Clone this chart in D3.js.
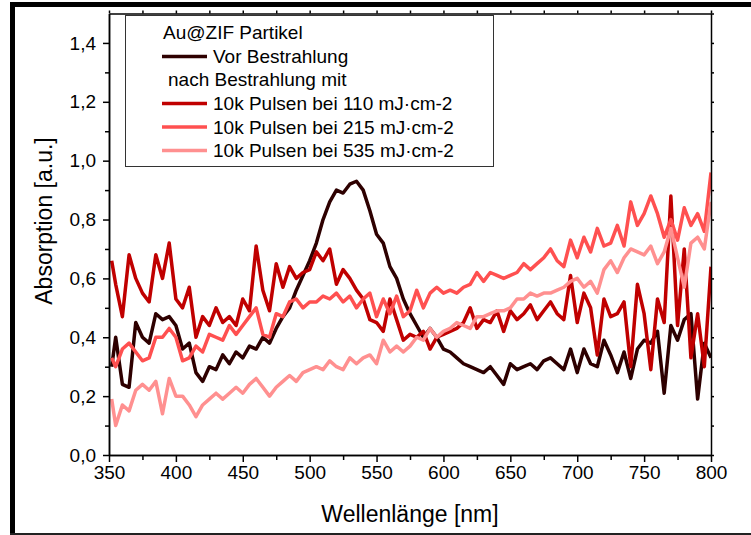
<!DOCTYPE html>
<html>
<head>
<meta charset="utf-8">
<script src="https://cdn.jsdelivr.net/npm/d3@7"></script>
<style>
  body { margin: 0; background: #fff; }
  svg { font-family: "Liberation Sans", Arial, sans-serif; }
</style>
</head>
<body>
<svg id="chart" width="751" height="535"></svg>
<script>
// wavelengths (nm)
const wavelengths = [352, 355, 360, 365, 370, 375, 380, 385, 390, 395, 400, 405, 410, 415, 420, 425, 430, 435, 440, 445,
  450, 455, 460, 465, 470, 475, 480, 485, 490, 495, 500, 505, 510, 515, 520, 525, 530, 535, 540, 545,
  550, 555, 560, 565, 570, 575, 580, 585, 590, 595, 600, 605, 610, 615, 620, 625, 630, 635, 640, 645,
  650, 655, 660, 665, 670, 675, 680, 685, 690, 695, 700, 705, 710, 715, 720, 725, 730, 735, 740, 745,
  750, 755, 760, 765, 770, 775, 780, 785, 790, 795, 800];

const vorBestrahlung = [0.30, 0.40, 0.24, 0.23, 0.45, 0.40, 0.38, 0.48, 0.46, 0.47, 0.44, 0.36, 0.38, 0.28, 0.25, 0.30, 0.29, 0.34, 0.31, 0.35,
  0.33, 0.37, 0.36, 0.40, 0.38, 0.43, 0.47, 0.50, 0.56, 0.61, 0.66, 0.72, 0.80, 0.86, 0.90, 0.89, 0.92, 0.93, 0.90, 0.83,
  0.75, 0.72, 0.64, 0.60, 0.53, 0.48, 0.44, 0.40, 0.43, 0.40, 0.36, 0.35, 0.33, 0.31, 0.30, 0.29, 0.28, 0.30, 0.27, 0.24,
  0.31, 0.29, 0.30, 0.31, 0.29, 0.32, 0.33, 0.31, 0.29, 0.36, 0.28, 0.36, 0.31, 0.30, 0.39, 0.34, 0.28, 0.35, 0.26, 0.36,
  0.39, 0.38, 0.42, 0.21, 0.44, 0.39, 0.46, 0.48, 0.19, 0.38, 0.33];

const puls110 = [0.66, 0.58, 0.47, 0.68, 0.60, 0.55, 0.52, 0.68, 0.60, 0.72, 0.53, 0.50, 0.57, 0.40, 0.47, 0.44, 0.50, 0.45, 0.47, 0.44,
  0.53, 0.49, 0.71, 0.56, 0.49, 0.65, 0.57, 0.64, 0.60, 0.62, 0.63, 0.69, 0.66, 0.70, 0.58, 0.63, 0.60, 0.56, 0.53, 0.46,
  0.45, 0.42, 0.53, 0.46, 0.39, 0.41, 0.40, 0.42, 0.36, 0.40, 0.41, 0.42, 0.43, 0.45, 0.50, 0.43, 0.46, 0.45, 0.49, 0.42,
  0.49, 0.46, 0.48, 0.51, 0.46, 0.49, 0.52, 0.48, 0.46, 0.61, 0.45, 0.55, 0.50, 0.34, 0.53, 0.47, 0.48, 0.52, 0.30, 0.58,
  0.48, 0.29, 0.53, 0.45, 0.88, 0.44, 0.70, 0.33, 0.48, 0.30, 0.64];

const puls215 = [0.33, 0.30, 0.36, 0.38, 0.35, 0.32, 0.33, 0.40, 0.40, 0.43, 0.40, 0.32, 0.33, 0.37, 0.35, 0.41, 0.40, 0.39, 0.44, 0.41,
  0.44, 0.47, 0.50, 0.41, 0.40, 0.48, 0.47, 0.52, 0.53, 0.50, 0.52, 0.52, 0.54, 0.53, 0.55, 0.52, 0.54, 0.50, 0.53, 0.55,
  0.47, 0.53, 0.48, 0.54, 0.47, 0.49, 0.56, 0.50, 0.55, 0.57, 0.55, 0.56, 0.55, 0.57, 0.58, 0.62, 0.59, 0.62, 0.61, 0.60,
  0.61, 0.62, 0.65, 0.63, 0.65, 0.67, 0.70, 0.66, 0.64, 0.73, 0.67, 0.74, 0.69, 0.77, 0.71, 0.72, 0.78, 0.71, 0.86, 0.78,
  0.82, 0.88, 0.82, 0.74, 0.80, 0.73, 0.84, 0.78, 0.82, 0.76, 0.96];

const puls535 = [0.19, 0.10, 0.17, 0.15, 0.22, 0.24, 0.22, 0.25, 0.14, 0.26, 0.20, 0.20, 0.17, 0.13, 0.17, 0.19, 0.21, 0.19, 0.21, 0.23,
  0.21, 0.24, 0.26, 0.23, 0.20, 0.23, 0.25, 0.27, 0.25, 0.28, 0.29, 0.30, 0.29, 0.32, 0.30, 0.29, 0.33, 0.31, 0.33, 0.34,
  0.31, 0.39, 0.35, 0.37, 0.35, 0.37, 0.40, 0.39, 0.43, 0.40, 0.42, 0.43, 0.45, 0.44, 0.43, 0.47, 0.47, 0.48, 0.49, 0.49,
  0.50, 0.53, 0.53, 0.55, 0.54, 0.55, 0.55, 0.56, 0.57, 0.59, 0.60, 0.57, 0.59, 0.55, 0.63, 0.66, 0.62, 0.67, 0.70, 0.69,
  0.68, 0.71, 0.65, 0.69, 0.77, 0.67, 0.57, 0.72, 0.74, 0.70, 0.86];

const seriesNames = ["Vor Bestrahlung", "10k Pulsen bei 110 mJ·cm-2", "10k Pulsen bei 215 mJ·cm-2", "10k Pulsen bei 535 mJ·cm-2"];
const seriesValues = [vorBestrahlung, puls110, puls215, puls535];
const colors = ["#2e0000", "#c00000", "#ff5050", "#ff9090"];

const xTicks = [350, 400, 450, 500, 550, 600, 650, 700, 750, 800];
const yTicks = [0, 0.2, 0.4, 0.6, 0.8, 1.0, 1.2, 1.4];

const svg = d3.select("#chart");
const plotLeft = 109, plotRight = 711, plotTop = 13.5, plotBottom = 455;

const x = d3.scaleLinear().domain([350, 800]).range([plotLeft, plotRight]);
const y = d3.scaleLinear().domain([0, 1.5]).range([plotBottom, plotTop]);

const fmt = (d) => d3.format(".1f")(d).replace(".", ",");

// outer frame
svg.append("rect").attr("x", 10).attr("y", 2).attr("width", 741).attr("height", 5).attr("fill", "#000");
svg.append("rect").attr("x", 10).attr("y", 2).attr("width", 5).attr("height", 533).attr("fill", "#000");
svg.append("rect").attr("x", 10).attr("y", 533).attr("width", 741).attr("height", 2).attr("fill", "#222");

// lines
const line = d3.line()
  .x((d, i) => x(wavelengths[i]))
  .y((d) => y(d));

svg.append("defs").append("clipPath").attr("id", "clip")
  .append("rect").attr("x", plotLeft).attr("y", plotTop)
  .attr("width", plotRight - plotLeft).attr("height", plotBottom - plotTop);

const plot = svg.append("g").attr("clip-path", "url(#clip)");
seriesValues.forEach((vals, k) => {
  plot.append("path")
    .datum(vals)
    .attr("fill", "none")
    .attr("stroke", colors[k])
    .attr("stroke-width", 3.5)
    .attr("stroke-linejoin", "round")
    .attr("d", line);
});

// axes
function styleAxis(g) {
  g.select(".domain").attr("stroke-width", 1.5);
  g.selectAll(".tick line").attr("stroke-width", 1.5);
  g.selectAll("text").attr("font-size", 19).attr("fill", "#000").attr("font-family", "Liberation Sans, Arial, sans-serif");
}

svg.append("g")
  .attr("transform", `translate(0,${plotBottom})`)
  .call(d3.axisBottom(x).tickValues(d3.range(375, 800, 50)).tickSize(5).tickFormat("").tickSizeOuter(0))
  .call(styleAxis);
svg.append("g")
  .attr("transform", `translate(0,${plotBottom})`)
  .call(d3.axisBottom(x).tickValues(xTicks).tickSize(7).tickPadding(4).tickFormat(d3.format("d")).tickSizeOuter(0))
  .call(styleAxis);

svg.append("g")
  .attr("transform", `translate(${plotLeft},0)`)
  .call(d3.axisLeft(y).tickValues(d3.range(0.1, 1.5, 0.2)).tickSize(4).tickFormat("").tickSizeOuter(0))
  .call(styleAxis);
svg.append("g")
  .attr("transform", `translate(${plotLeft},0)`)
  .call(d3.axisLeft(y).tickValues(yTicks).tickSize(6).tickPadding(7).tickFormat(fmt).tickSizeOuter(0))
  .call(styleAxis);

svg.append("g")
  .attr("transform", `translate(0,${plotTop})`)
  .call(d3.axisTop(x).tickValues(d3.range(350, 801, 25)).tickSize(3).tickFormat("").tickSizeOuter(0))
  .call(styleAxis);
svg.append("g")
  .attr("transform", `translate(${plotRight},0)`)
  .call(d3.axisRight(y).tickValues(d3.range(0, 1.51, 0.1)).tickSize(3).tickFormat("").tickSizeOuter(0))
  .call(styleAxis);

// axis titles
svg.append("text")
  .attr("x", (plotLeft + plotRight) / 2)
  .attr("y", 522)
  .attr("text-anchor", "middle")
  .attr("font-size", 23)
  .text("Wellenlänge [nm]");

svg.append("text")
  .attr("transform", "translate(52,221) rotate(-90)")
  .attr("text-anchor", "middle")
  .attr("font-size", 23)
  .text("Absorption [a.u.]");

// legend
const legend = svg.append("g");
legend.append("rect")
  .attr("x", 125.5).attr("y", 15.5).attr("width", 368).attr("height", 151)
  .attr("fill", "#fff").attr("stroke", "#333").attr("stroke-width", 1);

legend.append("text").attr("x", 163).attr("y", 39).attr("font-size", 19).text("Au@ZIF Partikel");
legend.append("text").attr("x", 168).attr("y", 86).attr("font-size", 19).text("nach Bestrahlung mit");

const legendRows = [63, 110, 133.5, 157];
seriesNames.forEach((name, k) => {
  const by = legendRows[k];
  legend.append("line")
    .attr("x1", 162).attr("x2", 207)
    .attr("y1", by - 6.5).attr("y2", by - 6.5)
    .attr("stroke", colors[k]).attr("stroke-width", 3.5);
  legend.append("text").attr("x", 213).attr("y", by).attr("font-size", 19).text(name);
});
</script>
</body>
</html>
